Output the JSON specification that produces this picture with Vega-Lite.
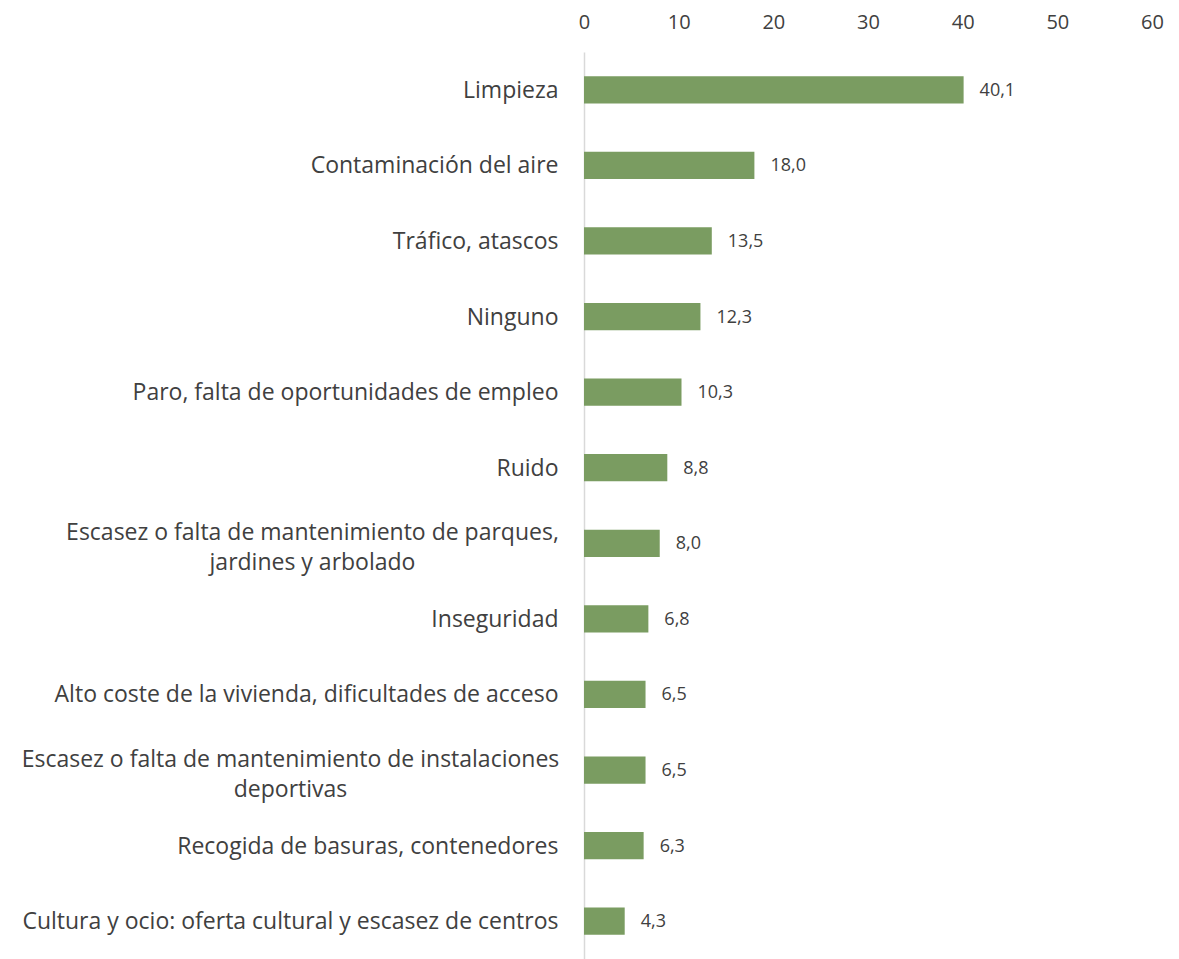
{
  "$schema": "https://vega.github.io/schema/vega-lite/v6.json",
  "autosize": "none",
  "width": 568,
  "height": 907,
  "padding": {"left": 584, "top": 52, "right": 27, "bottom": 0},
  "background": "white",
  "config": {
    "view": {"stroke": null},
    "font": "Open Sans",
    "locale": {"number": {"decimal": ",", "thousands": ".", "grouping": [3], "currency": ["", " €"]}}
  },
  "data": {
    "values": [
      {"problema": "Limpieza", "pct": 40.1},
      {"problema": "Contaminación del aire", "pct": 18.0},
      {"problema": "Tráfico, atascos", "pct": 13.5},
      {"problema": "Ninguno", "pct": 12.3},
      {"problema": "Paro, falta de oportunidades de empleo", "pct": 10.3},
      {"problema": "Ruido", "pct": 8.8},
      {"problema": "Escasez o falta de mantenimiento de parques,\njardines y arbolado", "pct": 8.0},
      {"problema": "Inseguridad", "pct": 6.8},
      {"problema": "Alto coste de la vivienda, dificultades de acceso", "pct": 6.5},
      {"problema": "Escasez o falta de mantenimiento de instalaciones\ndeportivas", "pct": 6.5},
      {"problema": "Recogida de basuras, contenedores", "pct": 6.3},
      {"problema": "Cultura y ocio: oferta cultural y escasez de centros", "pct": 4.3}
    ]
  },
  "encoding": {
    "y": {
      "field": "problema",
      "type": "nominal",
      "sort": null,
      "scale": {"paddingInner": 0.64, "paddingOuter": 0.32},
      "axis": {
        "title": null,
        "ticks": false,
        "domain": true,
        "domainColor": "#D9D9D9",
        "domainWidth": 1.5,
        "labelExpr": "split(datum.label, '\\n')",
        "labelFontSize": 23,
        "labelColor": "#404040",
        "labelAlign": {"condition": {"test": "indexof(datum.value, '\\n') >= 0", "value": "center"}, "value": "right"},
        "labelPadding": {"condition": [
          {"test": "indexof(datum.value, 'parques') >= 0", "value": 272},
          {"test": "indexof(datum.value, 'instalaciones') >= 0", "value": 294}
        ], "value": 26},
        "labelOffset": {"condition": {"test": "indexof(datum.value, '\\n') >= 0", "value": -10}, "value": 1},
        "labelLineHeight": 30,
        "labelLimit": 700
      }
    },
    "x": {
      "field": "pct",
      "type": "quantitative",
      "scale": {"domain": [0, 60], "nice": false},
      "axis": {
        "orient": "top",
        "title": null,
        "values": [0, 10, 20, 30, 40, 50, 60],
        "grid": false,
        "ticks": false,
        "domain": false,
        "labelFontSize": 20,
        "labelColor": "#404040",
        "labelPadding": 20,
        "labelFlush": false
      }
    }
  },
  "layer": [
    {"mark": {"type": "bar", "color": "#7A9C61"}},
    {
      "mark": {"type": "text", "align": "left", "baseline": "middle", "dx": 16, "dy": 1, "fontSize": 18, "color": "#404040"},
      "encoding": {"text": {"field": "pct", "type": "quantitative", "format": ".1f"}}
    }
  ]
}
